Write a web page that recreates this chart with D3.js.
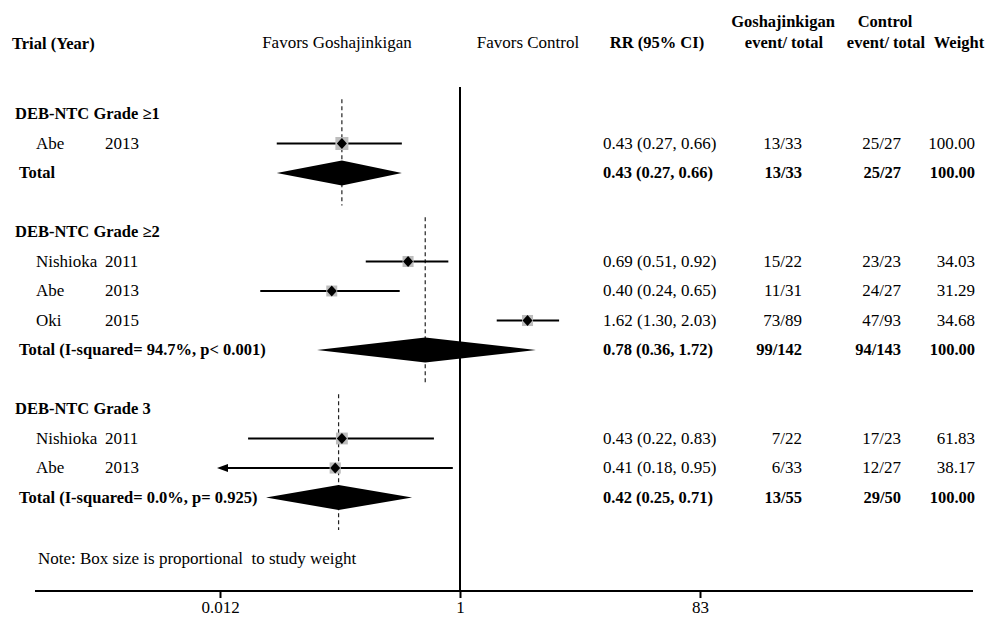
<!DOCTYPE html>
<html>
<head>
<meta charset="utf-8">
<script src="https://cdn.jsdelivr.net/npm/d3@7"></script>
<style>
  body { margin: 0; background: #fff; }
  svg text { font-family: "Liberation Serif", "Times New Roman", serif; font-size: 17px; fill: #000; }
  svg text.b { font-weight: bold; font-size: 16.5px; }
</style>
</head>
<body>
<div id="forest"></div>
<script>
// group labels
var groupNames = ["DEB-NTC Grade \u22651", "DEB-NTC Grade \u22652", "DEB-NTC Grade 3"];

// individual trials
var studyGroup = [0, 1, 1, 1, 2, 2];
var studyName = ["Abe", "Nishioka", "Abe", "Oki", "Nishioka", "Abe"];
var studyYear = ["2013", "2011", "2013", "2015", "2011", "2013"];
var studyRR = [0.43, 0.69, 0.40, 1.62, 0.43, 0.41];
var studyLow = [0.27, 0.51, 0.24, 1.30, 0.22, 0.18];
var studyHigh = [0.66, 0.92, 0.65, 2.03, 0.83, 0.95];
var studyTx = ["13/33", "15/22", "11/31", "73/89", "7/22", "6/33"];
var studyCtrl = ["25/27", "23/23", "24/27", "47/93", "17/23", "12/27"];
var studyWeight = [100.00, 34.03, 31.29, 34.68, 61.83, 38.17];

// pooled estimates, one per group
var totalLabel = ["Total", "Total (I-squared= 94.7%, p< 0.001)", "Total (I-squared= 0.0%, p= 0.925)"];
var totalRR = [0.43, 0.78, 0.42];
var totalLow = [0.27, 0.36, 0.25];
var totalHigh = [0.66, 1.72, 0.71];
var totalTx = ["13/33", "99/142", "13/55"];
var totalCtrl = ["25/27", "94/143", "29/50"];
var totalWeight = [100.00, 100.00, 100.00];

// axis
var axisMin = 0.18, axisMax = 1 / 0.18;
var axisTickLabels = ["0.012", "1", "83"];

var width = 987, height = 619;
var fmt = d3.format(".2f");

var svg = d3.select("#forest").append("svg")
    .attr("width", width).attr("height", height);

var x = d3.scaleLog().domain([axisMin, axisMax]).range([220, 700]);

// build row list: group label, trials, total, blank
var rows = [];
var r = 0;
groupNames.forEach(function(g, gi) {
    var start = r;
    rows.push({type: "group", row: r++, group: gi});
    for (var i = 0; i < studyName.length; i++) {
        if (studyGroup[i] === gi) rows.push({type: "study", row: r++, group: gi, i: i});
    }
    rows.push({type: "total", row: r, group: gi, start: start});
    r += 2;
});
var noteRow = r;

var y = d3.scaleLinear().domain([0, noteRow]).range([114, 114 + noteRow * 29.5]);
var step = y(1) - y(0);
var boxSize = d3.scaleLinear().domain([0, 100]).range([10, 13]);

// header
var head = svg.append("g");
head.append("text").attr("class", "b").attr("x", 12).attr("y", 49).text("Trial (Year)");
head.append("text").attr("x", 337).attr("y", 48).attr("text-anchor", "middle").text("Favors Goshajinkigan");
head.append("text").attr("x", 528).attr("y", 48).attr("text-anchor", "middle").text("Favors Control");
head.append("text").attr("class", "b").attr("x", 657).attr("y", 48).attr("text-anchor", "middle").text("RR (95% CI)");
head.append("text").attr("class", "b").attr("x", 783).attr("y", 27).attr("text-anchor", "middle").text("Goshajinkigan");
head.append("text").attr("class", "b").attr("x", 784).attr("y", 48).attr("text-anchor", "middle").text("event/ total");
head.append("text").attr("class", "b").attr("x", 885).attr("y", 27).attr("text-anchor", "middle").text("Control");
head.append("text").attr("class", "b").attr("x", 886).attr("y", 48).attr("text-anchor", "middle").text("event/ total");
head.append("text").attr("class", "b").attr("x", 959).attr("y", 48).attr("text-anchor", "middle").text("Weight");

// line of no effect
svg.append("line")
    .attr("x1", x(1)).attr("x2", x(1))
    .attr("y1", 87).attr("y2", 591)
    .attr("stroke", "#000").attr("stroke-width", 2);

// dashed pooled-estimate lines
rows.filter(function(d) { return d.type === "total"; }).forEach(function(d) {
    svg.append("line")
        .attr("x1", x(totalRR[d.group])).attr("x2", x(totalRR[d.group]))
        .attr("y1", y(d.start) - 0.5 * step).attr("y2", y(d.row) + 1.1 * step)
        .attr("stroke", "#222").attr("stroke-width", 1.2)
        .attr("stroke-dasharray", "4,3");
});

var labels = svg.append("g");
var marks = svg.append("g");

rows.forEach(function(d) {
    var yy = y(d.row);
    var base = yy + 5;
    if (d.type === "group") {
        labels.append("text").attr("class", "b").attr("x", 15).attr("y", base).text(groupNames[d.group]);
    } else if (d.type === "study") {
        var i = d.i;
        labels.append("text").attr("x", 36).attr("y", base).text(studyName[i]);
        labels.append("text").attr("x", 105).attr("y", base).text(studyYear[i]);
        labels.append("text").attr("x", 603).attr("y", base)
            .text(fmt(studyRR[i]) + " (" + fmt(studyLow[i]) + ", " + fmt(studyHigh[i]) + ")");
        labels.append("text").attr("x", 802).attr("y", base).attr("text-anchor", "end").text(studyTx[i]);
        labels.append("text").attr("x", 901).attr("y", base).attr("text-anchor", "end").text(studyCtrl[i]);
        labels.append("text").attr("x", 975).attr("y", base).attr("text-anchor", "end").text(fmt(studyWeight[i]));

        var lo = Math.max(studyLow[i], axisMin);
        var clipped = studyLow[i] <= axisMin;
        marks.append("line")
            .attr("x1", clipped ? x(lo) + 8 : x(lo)).attr("x2", x(studyHigh[i]))
            .attr("y1", yy).attr("y2", yy)
            .attr("stroke", "#000").attr("stroke-width", 2);
        if (clipped) {
            var ax = x(lo) - 3;
            marks.append("path")
                .attr("d", "M" + ax + "," + yy + "L" + (ax + 11) + "," + (yy - 4) + "L" + (ax + 11) + "," + (yy + 4) + "Z")
                .attr("fill", "#000");
        }
        var s = boxSize(studyWeight[i]);
        var cx = x(studyRR[i]);
        marks.append("rect")
            .attr("x", cx - s / 2).attr("y", yy - s / 2)
            .attr("width", s).attr("height", s)
            .attr("fill", "#bdbdbd");
        marks.append("path")
            .attr("d", "M" + (cx - 5) + "," + yy + "L" + cx + "," + (yy - 5.5) + "L" + (cx + 5) + "," + yy + "L" + cx + "," + (yy + 5.5) + "Z")
            .attr("fill", "#000");
    } else {
        var g = d.group;
        labels.append("text").attr("class", "b").attr("x", 19).attr("y", base).text(totalLabel[g]);
        labels.append("text").attr("class", "b").attr("x", 603).attr("y", base)
            .text(fmt(totalRR[g]) + " (" + fmt(totalLow[g]) + ", " + fmt(totalHigh[g]) + ")");
        labels.append("text").attr("class", "b").attr("x", 802).attr("y", base).attr("text-anchor", "end").text(totalTx[g]);
        labels.append("text").attr("class", "b").attr("x", 901).attr("y", base).attr("text-anchor", "end").text(totalCtrl[g]);
        labels.append("text").attr("class", "b").attr("x", 975).attr("y", base).attr("text-anchor", "end").text(fmt(totalWeight[g]));

        marks.append("path")
            .attr("d", "M" + x(totalLow[g]) + "," + yy +
                       "L" + x(totalRR[g]) + "," + (yy - 12.5) +
                       "L" + x(totalHigh[g]) + "," + yy +
                       "L" + x(totalRR[g]) + "," + (yy + 12.5) + "Z")
            .attr("fill", "#000");
    }
});

labels.append("text").attr("x", 38).attr("y", y(noteRow) + 7)
    .style("white-space", "pre")
    .text("Note: Box size is proportional  to study weight");

// x axis
var axisY = 591;
svg.append("line")
    .attr("x1", 35).attr("x2", 973)
    .attr("y1", axisY).attr("y2", axisY)
    .attr("stroke", "#000").attr("stroke-width", 2);

var axis = svg.append("g")
    .attr("transform", "translate(0," + axisY + ")")
    .call(d3.axisBottom(x)
        .tickValues([axisMin, 1, axisMax])
        .tickFormat(function(d, i) { return axisTickLabels[i]; })
        .tickSize(7).tickPadding(3).tickSizeOuter(0));
axis.select(".domain").remove();
axis.selectAll(".tick line").attr("stroke", "#000").attr("stroke-width", 2);
axis.selectAll(".tick text").attr("font-size", null).attr("font-family", null);
</script>
</body>
</html>
